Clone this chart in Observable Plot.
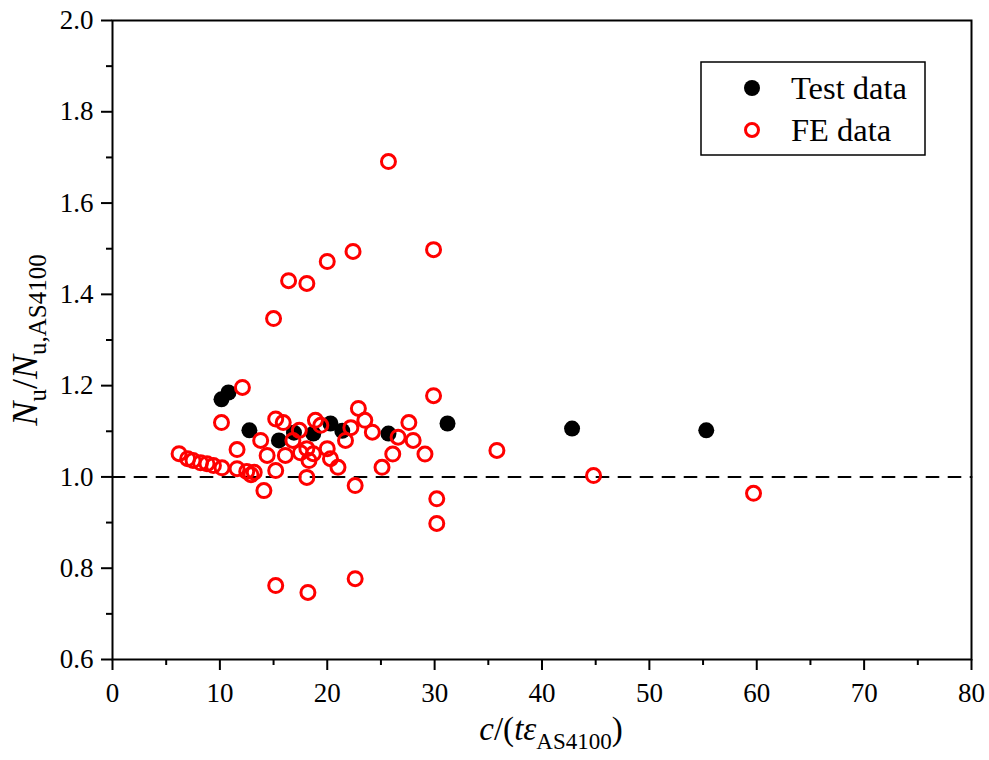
<!DOCTYPE html>
<html><head><meta charset="utf-8">
<script src="https://cdn.jsdelivr.net/npm/d3@7"></script>
<script src="https://cdn.jsdelivr.net/npm/@observablehq/plot@0.6"></script>
<style>body{margin:0;background:#fff;} #chart{position:relative;}</style>
</head><body><div id="chart"></div>
<script>
const testX = [10.15, 10.8, 12.75, 15.5, 16.9, 18.7, 20.3, 21.4, 25.7, 31.2, 42.8, 55.3];
const testY = [1.170, 1.185, 1.102, 1.080, 1.097, 1.095, 1.117, 1.101, 1.095, 1.117, 1.106, 1.102];

const feX = [6.2, 7.0, 7.5, 8.2, 8.8, 9.4, 10.2,
  10.15, 12.1, 11.6, 11.6, 12.5, 12.9, 13.2,
  13.8, 14.1, 14.4, 15.2, 15.2, 15.9, 16.1, 16.8, 17.4, 17.5, 18.1, 18.3, 18.7, 18.9, 19.4, 20.0, 20.3, 21.0, 18.1, 21.7, 22.2, 22.9, 22.6, 23.5,
  24.2, 25.1, 26.1, 26.6, 27.6, 28.0, 29.1, 29.9, 30.2, 30.2, 35.8, 44.8, 59.7,
  15.0, 16.4, 18.1, 20.0, 22.4, 25.7, 29.9,
  15.2, 18.2, 22.6];
const feY = [1.051, 1.040, 1.036, 1.031, 1.029, 1.025, 1.020,
  1.119, 1.196, 1.060, 1.018, 1.012, 1.005, 1.010,
  1.080, 0.970, 1.047, 1.014, 1.127, 1.119, 1.047, 1.080, 1.102, 1.053, 1.062, 1.036, 1.051, 1.124, 1.113, 1.062, 1.040, 1.021, 0.999, 1.080, 1.108, 1.150, 0.981, 1.124,
  1.098, 1.021, 1.050, 1.087, 1.119, 1.080, 1.050, 1.178, 0.952, 0.898, 1.058, 1.003, 0.964,
  1.347, 1.430, 1.424, 1.472, 1.494, 1.691, 1.498,
  0.762, 0.747, 0.777];

const xMajor = [0, 10, 20, 30, 40, 50, 60, 70, 80];
const xMinor = [5, 15, 25, 35, 45, 55, 65, 75];
const yMajor = [0.6, 0.8, 1.0, 1.2, 1.4, 1.6, 1.8, 2.0];
const yMinor = [0.7, 0.9, 1.1, 1.3, 1.5, 1.7, 1.9];
const refLine = [{x: 0, y: 1.0}, {x: 80, y: 1.0}];

const test = testX.map((x, i) => ({x, y: testY[i]}));
const fe = feX.map((x, i) => ({x, y: feY[i]}));

const svg = Plot.plot({
  width: 989, height: 760,
  marginLeft: 112, marginRight: 18, marginTop: 20, marginBottom: 101,
  x: {domain: [0, 80]},
  y: {domain: [0.6, 2.0]},
  style: {fontFamily: "Liberation Serif", fontSize: "27px", color: "black", background: "white"},
  marks: [
    Plot.line(refLine, {x: "x", y: "y", stroke: "black", strokeWidth: 2, strokeDasharray: "12,10"}),
    Plot.dot(test, {x: "x", y: "y", r: 8, fill: "black", stroke: "none"}),
    Plot.dot(fe, {x: "x", y: "y", r: 7, fill: "none", stroke: "#ff0000", strokeWidth: 3}),
    Plot.frame({stroke: "black", strokeWidth: 2}),
    Plot.axisX({ticks: xMajor, tickSize: 11, tickPadding: 12, tickFormat: d => String(d), label: null, strokeWidth: 2}),
    Plot.axisX({ticks: xMinor, tickSize: 6, tickFormat: () => "", label: null, strokeWidth: 2}),
    Plot.axisY({ticks: yMajor, tickSize: 11, tickPadding: 8, tickFormat: d => d.toFixed(1), label: null, strokeWidth: 2}),
    Plot.axisY({ticks: yMinor, tickSize: 6, tickFormat: () => "", label: null, strokeWidth: 2})
  ]
});
document.getElementById("chart").appendChild(svg);

const s = d3.select(svg);
const font = "'Liberation Serif', 'Times New Roman', serif";

// force tick label font on all Plot-generated text
s.selectAll("g").filter(function() { return this.querySelector("text"); })
  .style("font-size", "27px").style("font-family", font);
s.selectAll("text").style("font-size", "27px").style("font-family", font);

// x-axis title
const xt = s.append("text").attr("x", 551).attr("y", 740).style("text-anchor", "middle")
  .style("font-family", font).style("font-size", "33px").attr("fill", "black");
xt.append("tspan").attr("font-style", "italic").text("c");
xt.append("tspan").text("/(");
xt.append("tspan").attr("font-style", "italic").text("t\u03B5");
xt.append("tspan").style("font-size", "23px").attr("dy", 9).text("AS4100");
xt.append("tspan").attr("dy", -9).text(")");

// y-axis title
const yt = s.append("text").attr("transform", "translate(37,340) rotate(-90)").style("text-anchor", "middle")
  .style("font-family", font).style("font-size", "36px").attr("fill", "black");
yt.append("tspan").attr("font-style", "italic").text("N");
yt.append("tspan").style("font-size", "25px").attr("dy", 9).text("u");
yt.append("tspan").attr("dy", -9).text("/");
yt.append("tspan").attr("font-style", "italic").text("N");
yt.append("tspan").style("font-size", "25px").attr("dy", 9).text("u,AS4100");

// legend
const lg = s.append("g");
lg.append("rect").attr("x", 701).attr("y", 62).attr("width", 224).attr("height", 93)
  .attr("fill", "white").attr("stroke", "black").attr("stroke-width", 1.5);
lg.append("circle").attr("cx", 752).attr("cy", 88).attr("r", 8).attr("fill", "black");
lg.append("circle").attr("cx", 752).attr("cy", 130).attr("r", 6.5).attr("fill", "none").attr("stroke", "#ff0000").attr("stroke-width", 3);
lg.append("text").attr("x", 791).attr("y", 99).style("text-anchor", "start").style("font-family", font).style("font-size", "32.5px").attr("fill", "black").text("Test data");
lg.append("text").attr("x", 791).attr("y", 141).style("text-anchor", "start").style("font-family", font).style("font-size", "32.5px").attr("fill", "black").text("FE data");
</script>
</body></html>
